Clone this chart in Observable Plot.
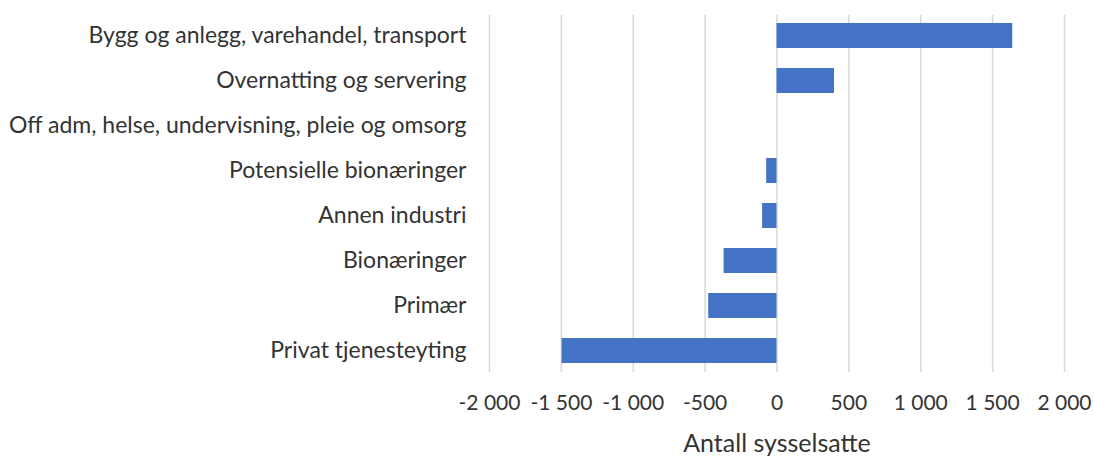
<!DOCTYPE html>
<html>
<head>
<meta charset="utf-8">
<script src="https://cdn.jsdelivr.net/npm/d3@7"></script>
<script src="https://cdn.jsdelivr.net/npm/@observablehq/plot@0.6"></script>
<style>
  html, body { margin: 0; padding: 0; background: #fff; }
  #chart svg { display: block; }
</style>
</head>
<body>
<div id="chart"></div>
<script>
const categories = [
  "Bygg og anlegg, varehandel, transport",
  "Overnatting og servering",
  "Off adm, helse, undervisning, pleie og omsorg",
  "Potensielle bionæringer",
  "Annen industri",
  "Bionæringer",
  "Primær",
  "Privat tjenesteyting"
];
const values = [1640, 400, 0, -72, -100, -368, -475, -1495];
const xTicks = [-2000, -1500, -1000, -500, 0, 500, 1000, 1500, 2000];
const xLabel = "Antall sysselsatte";

const data = categories.map((c, i) => ({category: c, value: values[i]}));
const fmt = v => d3.format(",")(v).replace(/,/g, " ").replace("−", "-");

const chart = Plot.plot({
  width: 1094,
  height: 456,
  marginLeft: 489,
  marginRight: 30,
  marginTop: 15,
  marginBottom: 84,
  style: {fontFamily: "Lato, 'Open Sans', sans-serif", fontSize: "21px", color: "#333333", background: "#fff"},
  x: {domain: [-2000, 2000]},
  y: {domain: categories, paddingInner: 0.44, paddingOuter: 0.185},
  marks: [
    Plot.gridX(xTicks, {stroke: "#d9d9d9", strokeOpacity: 1, strokeWidth: 1.5}),
    Plot.barX(data, {x: "value", y: "category", fill: "#4472c4"}),
    Plot.axisX(xTicks, {tickSize: 0, tickPadding: 23, tickFormat: fmt, label: null, fontSize: 21}),
    Plot.text([xLabel], {frameAnchor: "bottom", dy: 71, lineAnchor: "middle", fontSize: 25, fill: "#333333"}),
    Plot.axisY({tickSize: 0, tickPadding: 23, label: null, fontSize: 23})
  ]
});
document.getElementById("chart").appendChild(chart);
</script>
</body>
</html>
